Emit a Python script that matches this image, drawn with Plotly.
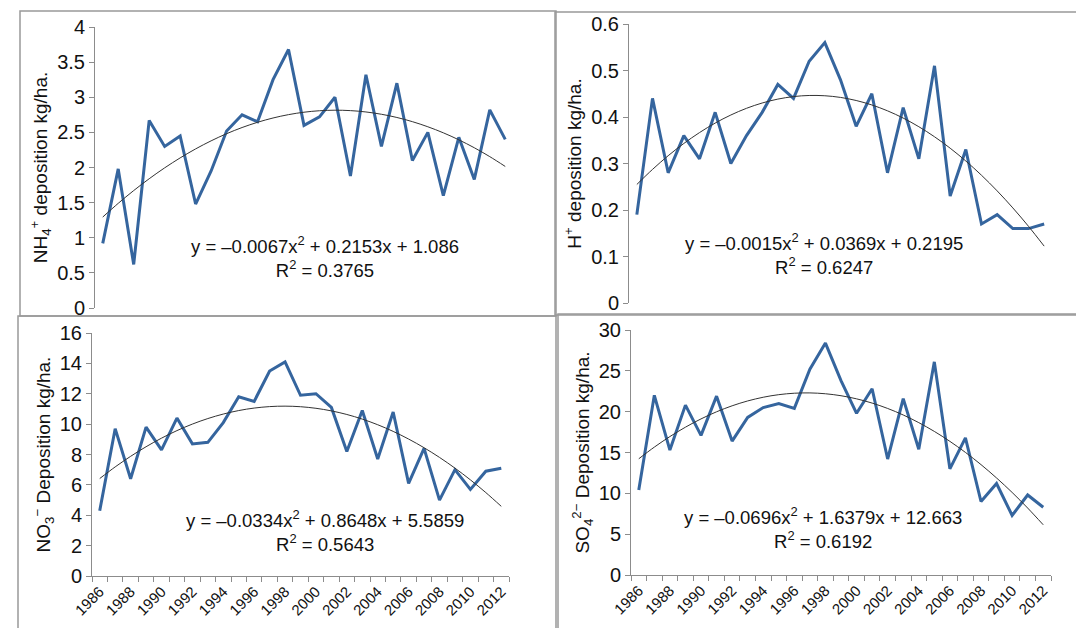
import numpy as np
import plotly.graph_objects as go

# years 1986 - 2012
years = list(range(1986, 2013))

nh4 = [0.92, 1.98, 0.62, 2.67, 2.30, 2.45, 1.48, 1.95, 2.52, 2.75, 2.65, 3.25, 3.68, 2.60,
       2.72, 3.00, 1.88, 3.32, 2.30, 3.20, 2.10, 2.50, 1.60, 2.43, 1.83, 2.82, 2.40]
h_ion = [0.19, 0.44, 0.28, 0.36, 0.31, 0.41, 0.30, 0.36, 0.41, 0.47, 0.44, 0.52, 0.56, 0.48,
         0.38, 0.45, 0.28, 0.42, 0.31, 0.51, 0.23, 0.33, 0.17, 0.19, 0.16, 0.16, 0.17]
no3 = [4.3, 9.7, 6.4, 9.8, 8.3, 10.4, 8.7, 8.8, 10.1, 11.8, 11.5, 13.5, 14.1, 11.9,
       12.0, 11.1, 8.2, 10.9, 7.7, 10.8, 6.1, 8.4, 5.0, 7.0, 5.7, 6.9, 7.1]
so4 = [10.4, 22.0, 15.3, 20.8, 17.1, 21.9, 16.4, 19.3, 20.5, 21.0, 20.4, 25.2, 28.4, 23.8,
       19.8, 22.8, 14.2, 21.6, 15.4, 26.1, 13.0, 16.8, 9.0, 11.2, 7.3, 9.8, 8.3]

# polynomial trend coefficients (a, b, c) and R² as printed on the chart
coef_nh4 = (-0.0067, 0.2153, 1.086)
coef_h = (-0.0015, 0.0369, 0.2195)
coef_no3 = (-0.0334, 0.8648, 5.5859)
coef_so4 = (-0.0696, 1.6379, 12.663)
r2 = ["0.3765", "0.6247", "0.5643", "0.6192"]
eq_text = ["y = –0.0067x<sup>2</sup> + 0.2153x + 1.086",
           "y = –0.0015x<sup>2</sup> + 0.0369x + 0.2195",
           "y = –0.0334x<sup>2</sup> + 0.8648x + 5.5859",
           "y = –0.0696x<sup>2</sup> + 1.6379x + 12.663"]

y_titles = ["NH<sub>4</sub><sup>+</sup> deposition kg/ha.",
            "H<sup>+</sup> deposition kg/ha.",
            "NO<sub>3</sub><sup>−</sup> Deposition kg/ha.",
            "SO<sub>4</sub><sup>2−</sup> Deposition kg/ha."]
y_ranges = [(0, 4), (0, 0.6), (0, 16), (0, 30)]
y_dticks = [0.5, 0.1, 2, 5]

W, H = 1084, 628
FONT = "Liberation Sans, Arial, sans-serif"
BLUE = "#35659e"
GRAY = "#8c8c8c"
TXT = "#111111"

# plot areas in pixels: (left, right, top, bottom)
areas = [(87, 505, 19, 300), (621, 1044, 16, 295),
         (84, 501, 325, 568), (623, 1043, 322, 567)]
# boxes around each panel in pixels: (left, right, top, bottom)
boxes = [(12, 548, 3, 308), (547, 1080, 4, 307),
         (10, 548, 308, 624), (550, 1080, 306, 623)]
# equation label position inside each plot area (domain coords)
eq_pos = [(0.55, 0.181), (0.46, 0.176), (0.559, 0.185), (0.458, 0.193)]

series = [nh4, h_ion, no3, so4]
coefs = [coef_nh4, coef_h, coef_no3, coef_so4]

idx = np.arange(1, len(years) + 1)

fig = go.Figure()
layout = {}
annotations = []
shapes = []

for i in range(4):
    xa = "x" if i == 0 else f"x{i + 1}"
    ya = "y" if i == 0 else f"y{i + 1}"
    a, b, c = coefs[i]
    trend = a * idx ** 2 + b * idx + c

    fig.add_trace(go.Scatter(x=years, y=series[i], mode="lines",
                             line=dict(color=BLUE, width=3), xaxis=xa, yaxis=ya,
                             showlegend=False))
    fig.add_trace(go.Scatter(x=years, y=trend, mode="lines", line_shape="spline",
                             line=dict(color="#333333", width=1), xaxis=xa, yaxis=ya,
                             showlegend=False))

    l, r, t, bt = areas[i]
    bottom_row = i >= 2
    xaxis = dict(domain=[l / W, r / W], range=[1985.5, 2012.5], anchor=ya,
                 showgrid=False, zeroline=False, fixedrange=True, automargin=False)
    if bottom_row:
        xaxis.update(showline=True, linecolor=GRAY, linewidth=1,
                     tickvals=years[::2], ticktext=[str(v) for v in years[::2]],
                     ticks="", tickangle=-45,
                     tickfont=dict(family=FONT, size=15, color=TXT),
                     minor=dict(tickvals=[v - 0.5 for v in years] + [years[-1] + 0.5],
                                ticks="outside", ticklen=5, tickcolor=GRAY))
    else:
        xaxis.update(visible=False)
    yaxis = dict(domain=[1 - bt / H, 1 - t / H], range=list(y_ranges[i]),
                 dtick=y_dticks[i], anchor=xa, showgrid=False, zeroline=False,
                 showline=True, linecolor=GRAY, linewidth=1, automargin=False,
                 ticks="outside", ticklen=5, tickcolor=GRAY,
                 tickfont=dict(family=FONT, size=20, color=TXT),
                 title=dict(text=y_titles[i], standoff=4,
                            font=dict(family=FONT, size=19, color=TXT)))
    layout["xaxis" if i == 0 else f"xaxis{i + 1}"] = xaxis
    layout["yaxis" if i == 0 else f"yaxis{i + 1}"] = yaxis

    ex, ey = eq_pos[i]
    annotations.append(dict(text=eq_text[i] + "<br>R<sup>2</sup> = " + r2[i],
                            xref=f"{xa} domain", yref=f"{ya} domain", x=ex, y=ey,
                            xanchor="center", yanchor="middle",
                            showarrow=False, align="center",
                            font=dict(family=FONT, size=18.5, color=TXT)))

    bl, br, btp, bb = boxes[i]
    shapes.append(dict(type="rect", xref="paper", yref="paper",
                       x0=bl / W, x1=br / W, y0=1 - bb / H, y1=1 - btp / H,
                       line=dict(color="#999999", width=1.5)))

fig.update_layout(**layout)
fig.update_layout(width=W, height=H, margin=dict(l=0, r=0, t=0, b=0),
                  paper_bgcolor="white", plot_bgcolor="white",
                  annotations=annotations, shapes=shapes,
                  font=dict(family=FONT))

fig.write_html("out.html")
